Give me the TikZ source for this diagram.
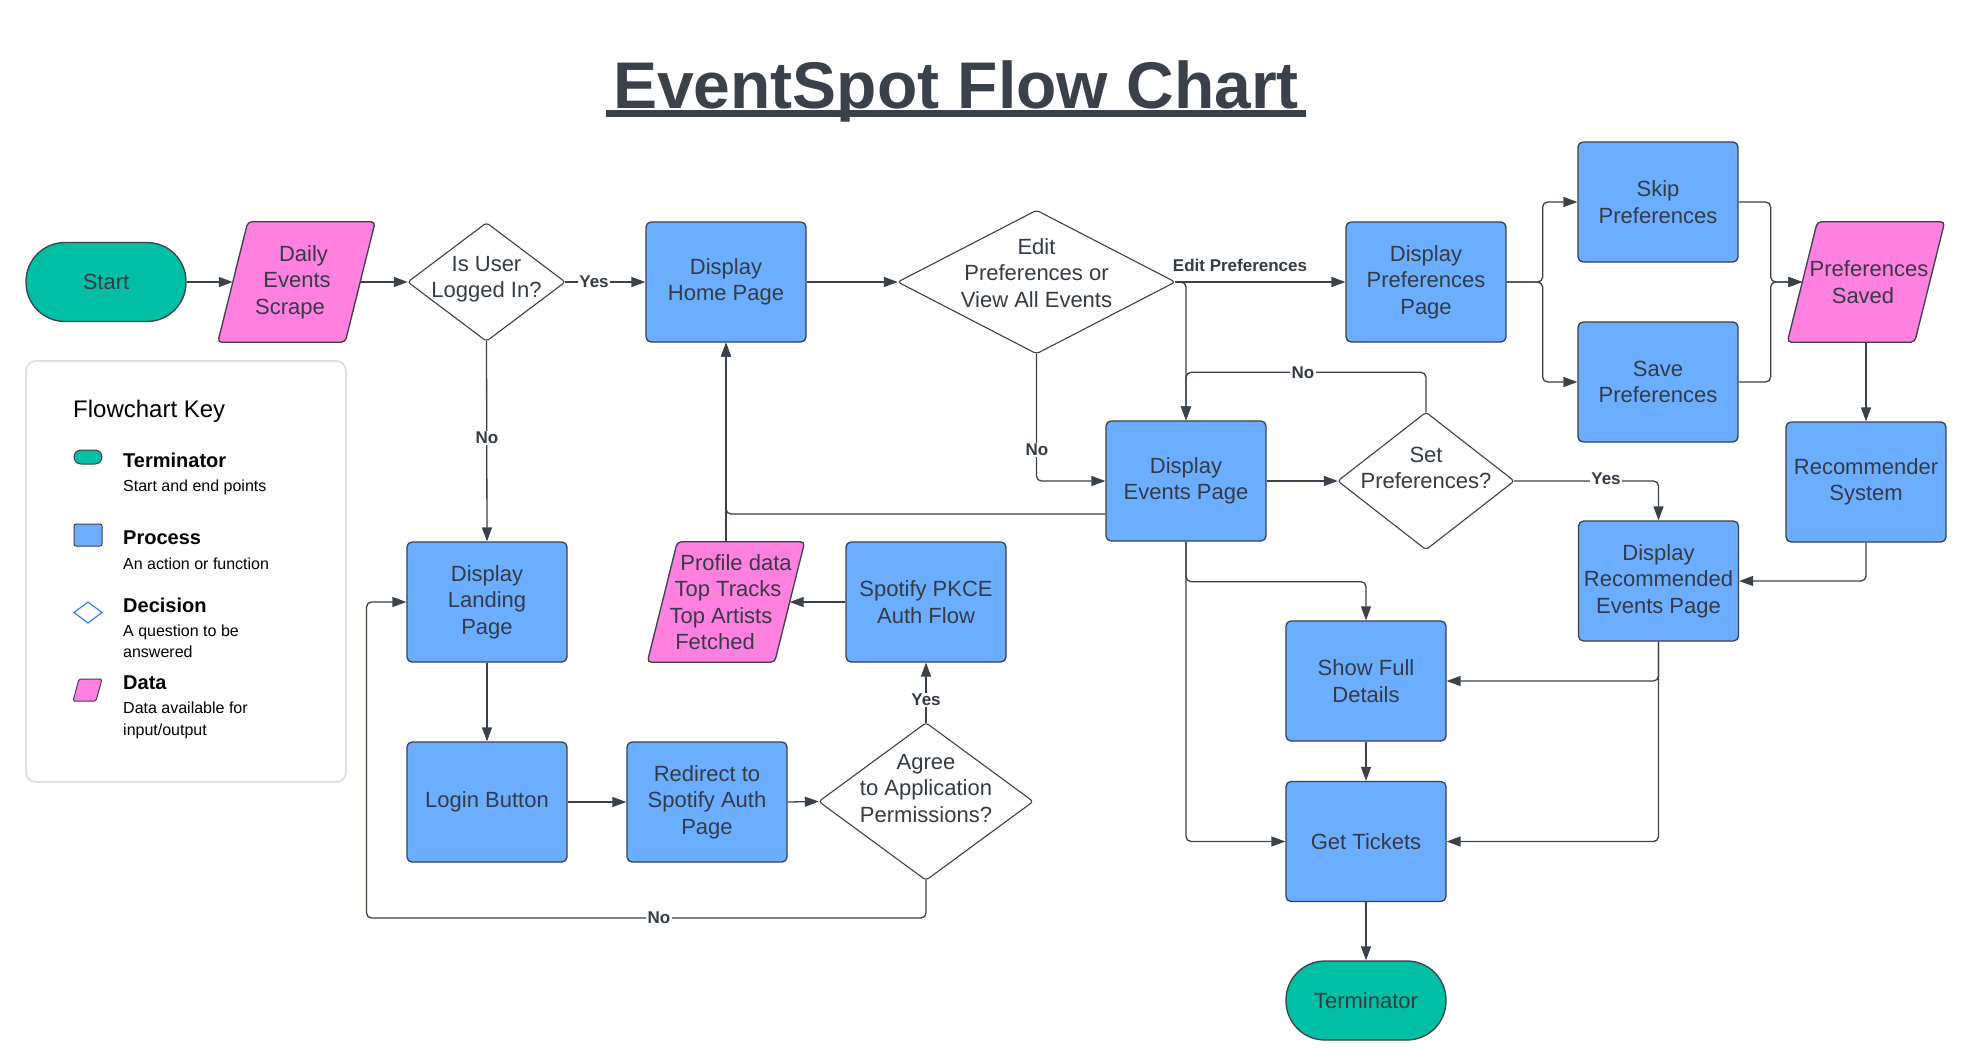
\documentclass[tikz,border=0pt]{standalone}
\usepackage{fontspec}
\setmainfont{Liberation Sans}
\usetikzlibrary{arrows.meta}
\pgfdeclarelayer{background}
\pgfsetlayers{background,main}
\definecolor{termc}{HTML}{00BFA5}
\definecolor{procc}{HTML}{6BAEFF}
\definecolor{datac}{HTML}{FF80DF}
\definecolor{edgec}{HTML}{3A414A}
\definecolor{txtc}{HTML}{343B45}
\definecolor{legc}{HTML}{DDE1E6}
\definecolor{keyblue}{HTML}{2D7FF9}
\newcommand\mkpara[1]{\draw[datashape] ([xshift=-15pt]#1.south west) -- ([xshift=15pt]#1.north west) -- ([xshift=15pt]#1.north east) -- ([xshift=-15pt]#1.south east) -- cycle;}
\newcommand\mkdiam[1]{\draw[diashape] (#1.north) -- (#1.east) -- (#1.south) -- (#1.west) -- cycle;}
% line shifted right (#1) or left (#2), by half the kern, in a zero-width box
\newcommand\shr[2]{\makebox[0pt]{\kern#1 #2}}
\newcommand\shlft[2]{\makebox[0pt]{#2\kern#1}}
\tikzset{
  nodefont/.style={font=\fontsize{22}{26.5}\selectfont},
  base/.style={draw=edgec, line width=1.3pt, text=txtc, nodefont, align=center, inner sep=0pt},
  proc/.style={base, rectangle, rounded corners=5pt, fill=procc, minimum width=160pt, minimum height=120pt},
  term/.style={base, rectangle, rounded corners=39pt, fill=termc, minimum width=160pt, minimum height=79pt},
  txtonly/.style={text=txtc, nodefont, align=center, inner sep=0pt},
  diabox/.style={rectangle, inner sep=0pt},
  parabox/.style={txtonly, rectangle, minimum width=127pt, minimum height=120pt},
  datashape/.style={fill=datac, draw=edgec, line width=1.3pt, rounded corners=4pt},
  diashape/.style={fill=white, draw=edgec, line width=1.1pt, rounded corners=3pt},
  conn/.style={draw=edgec, line width=1.3pt, rounded corners=5pt, -{Triangle[length=14pt,width=10pt]}},
  lbl/.style={font=\bfseries\fontsize{17}{20}\selectfont, text=txtc, fill=white, inner sep=1.5pt},
  keyhead/.style={font=\bfseries\fontsize{20}{24}\selectfont, text=black, anchor=base west, inner sep=0pt},
  keysub/.style={font=\fontsize{16}{19}\selectfont, text=black, anchor=base west, inner sep=0pt},
}
\begin{document}
\begin{tikzpicture}[x=1pt,y=-1pt]
\useasboundingbox (0,0) rectangle (1967,1063);

% title
\node[font=\bfseries\fontsize{66}{78}\selectfont, text=edgec, inner sep=0pt, anchor=base] (title) at (956,108) {EventSpot Flow Chart};
\draw[edgec, line width=7pt] ([xshift=-7pt,yshift=-5.5pt]title.base west) -- ([xshift=7pt,yshift=-5.5pt]title.base east);

% legend
\node[draw=legc, line width=2pt, rounded corners=10pt, minimum width=320pt, minimum height=421pt] (key) at (186,571.5) {};
\node[font=\fontsize{24}{28}\selectfont, text=black, anchor=base west, inner sep=0pt] (keytitle) at (73,417) {Flowchart Key};
\node[fill=termc, draw=edgec, line width=1pt, rounded corners=7pt, minimum width=28pt, minimum height=14pt, inner sep=0pt] (kterm) at (88,457) {};
\node[keyhead] (kt1) at (123,467) {Terminator};
\node[keysub] (kt2) at (123,491) {Start and end points};
\node[fill=procc, draw=edgec, line width=1pt, rounded corners=2pt, minimum width=28pt, minimum height=22pt, inner sep=0pt] (kproc) at (88,535) {};
\node[keyhead] (kp1) at (123,544) {Process};
\node[keysub] (kp2) at (123,569) {An action or function};
\draw[draw=keyblue, line width=1.2pt, fill=white] (74,612.5) -- (88,602) -- (102,612.5) -- (88,623) -- cycle;
\node[keyhead] (kd1) at (123,612) {Decision};
\node[keysub] (kd2) at (123,636) {A question to be};
\node[keysub] (kd3) at (123,657) {answered};
\draw[fill=datac, draw=edgec, line width=1pt, rounded corners=1.5pt] (73,701) -- (79,679) -- (102,679) -- (96,701) -- cycle;
\node[keyhead] (ka1) at (123,689) {Data};
\node[keysub] (ka2) at (123,713) {Data available for};
\node[keysub] (ka3) at (123,735) {input/output};

% nodes
\node[term] (start) at (106,282) {Start};
\node[parabox] (ds) at (296.5,282) {\shr{14pt}{Daily}\\\shr{1pt}{Events}\\\shlft{13pt}{Scrape}};
\node[diabox, minimum width=157pt, minimum height=118pt] (isuser) at (486.5,282) {};
\node[txtonly] (isuser-t) at ([yshift=3pt]isuser.center) {Is User\\Logged In?};
\node[proc] (home) at (726,282) {Display\\Home Page};
\node[diabox, minimum width=277pt, minimum height=143pt] (edit) at (1036.5,282) {};
\node[txtonly] (edit-t) at ([yshift=9pt]edit.center) {Edit\\Preferences or\\View All Events};
\node[proc] (dpp) at (1426,282) {Display\\Preferences\\Page};
\node[proc] (skip) at (1658,202) {Skip\\Preferences};
\node[proc] (save) at (1658,382) {Save\\Preferences};
\node[parabox] (ps) at (1866,282) {\shr{6pt}{Preferences}\\\shlft{6pt}{Saved}};
\node[proc] (rec) at (1866,482) {Recommender\\System};
\node[proc] (events) at (1186,481) {Display\\Events Page};
\node[diabox, minimum width=176pt, minimum height=137pt] (setp) at (1426,481) {};
\node[txtonly] (setp-t) at ([yshift=13pt]setp.center) {Set\\Preferences?};
\node[proc] (dre) at (1658.5,581) {Display\\Recommended\\Events Page};
\node[proc] (sfd) at (1366,681) {Show Full\\Details};
\node[proc] (gt) at (1366,841.5) {Get Tickets};
\node[term] (term) at (1366,1000.5) {Terminator};
\node[parabox] (pd) at (726,602) {\shr{20pt}{Profile data}\\\shr{4pt}{Top Tracks}\\\shlft{10pt}{Top Artists}\\\shlft{22pt}{Fetched}};
\node[proc] (spkce) at (926,602) {Spotify PKCE\\Auth Flow};
\node[proc] (land) at (487,602) {Display\\Landing\\Page};
\node[proc] (login) at (487,802) {Login Button};
\node[proc] (redir) at (707,802) {Redirect to\\Spotify Auth\\Page};
\node[diabox, minimum width=214pt, minimum height=157pt] (agree) at (926,801.5) {};
\node[txtonly] (agree-t) at ([yshift=13pt]agree.center) {Agree\\to Application\\Permissions?};

\begin{pgfonlayer}{background}
\fill[white] (0,0) rectangle (1967,1063);
\mkpara{ds}
\mkpara{ps}
\mkpara{pd}
\mkdiam{isuser}
\mkdiam{edit}
\mkdiam{setp}
\mkdiam{agree}
\end{pgfonlayer}

% connectors
\draw[conn] (start.east) -- (ds.west);
\draw[conn] (ds.east) -- (isuser.west);
\draw[conn] (isuser.east) -- (home.west);
\draw[conn] (isuser.south) -- (land.north);
\draw[conn] (home.east) -- (edit.west);
\draw[conn] (edit.east) -- (dpp.west);
\draw[conn] (edit.east) -| (events.north);
\draw[conn] (edit.south) |- (events.west);
\draw[conn] ([yshift=-33pt]events.west) -| (home.south);
\draw[conn] (pd.north) -- (home.south);
\draw[conn] (dpp.east) -- ([xshift=36pt]dpp.east) |- (skip.west);
\draw[conn] (dpp.east) -- ([xshift=36pt]dpp.east) |- (save.west);
\draw[conn] (skip.east) -- ([xshift=32pt]skip.east) |- (ps.west);
\draw[conn] (save.east) -- ([xshift=32pt]save.east) |- (ps.west);
\draw[conn] (ps.south) -- (rec.north);
\draw[conn] (rec.south) |- (dre.east);
\draw[conn] (events.east) -- (setp.west);
\draw[conn] (setp.north) -- ([yshift=40pt]setp.north) -| (events.north);
\draw[conn] (setp.east) -| (dre.north);
\draw[conn] (events.south) -- ([yshift=-40pt]events.south) -| (sfd.north);
\draw[conn] (events.south) |- (gt.west);
\draw[conn] (dre.south) |- (sfd.east);
\draw[conn] (dre.south) |- (gt.east);
\draw[conn] (sfd.south) -- (gt.north);
\draw[conn] (gt.south) -- (term.north);
\draw[conn] (land.south) -- (login.north);
\draw[conn] (login.east) -- (redir.west);
\draw[conn] (redir.east) -- (agree.west);
\draw[conn] (agree.north) -- (spkce.south);
\draw[conn] (spkce.west) -- (pd.east);
\coordinate (nocorner) at (366.5,918);
\draw[conn] (agree.south) |- (nocorner) |- (land.west);

% labels
\node[lbl] (lyes1) at (594,282) {Yes};
\node[lbl] (lno1) at (487,438) {No};
\node[lbl, fill=none] (ledit) at (1240,265) {Edit Preferences};
\node[lbl] (lno2) at (1037,450) {No};
\node[lbl] (lno3) at (1303,373) {No};
\node[lbl] (lyes2) at (1606,479) {Yes};
\node[lbl] (lyes3) at (926,700) {Yes};
\node[lbl] (lno4) at (659,918) {No};
\end{tikzpicture}
\end{document}
